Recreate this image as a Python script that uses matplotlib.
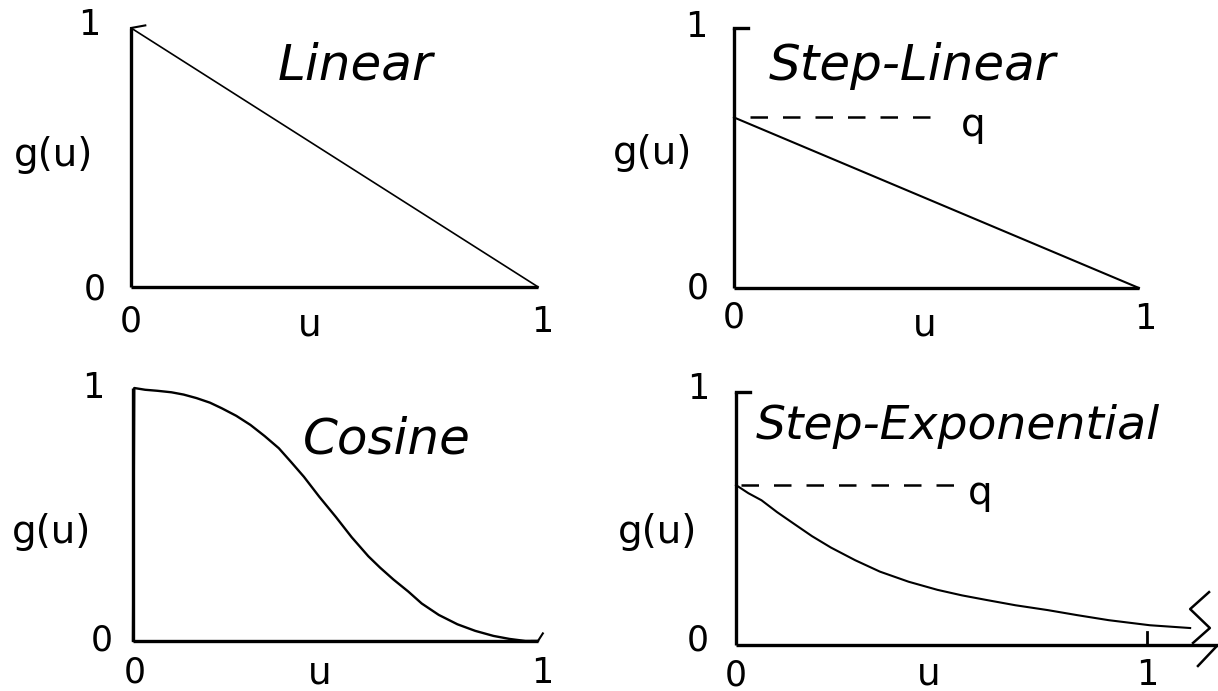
import matplotlib.pyplot as plt

plt.rcParams['font.family'] = ['DejaVu Sans']

# Linear: straight fall from 1 to 0
linear_u = [0.0, 1.0]
linear_g = [1.0, 0.0]

# Step-Linear: jump to q then straight fall
step_lin_u = [0.0, 1.0]
step_lin_g = [0.656, 0.0]
q_lin = 0.656

# Cosine: smooth fall
cos_u = [0.0, 0.003, 0.03, 0.06, 0.095, 0.125, 0.157, 0.19, 0.219, 0.255,
         0.29, 0.325, 0.36, 0.39, 0.422, 0.46, 0.501, 0.54, 0.581, 0.61,
         0.643, 0.68, 0.713, 0.755, 0.801, 0.845, 0.89, 0.93, 0.969, 1.0]
cos_g = [0.0, 1.0, 0.993, 0.989, 0.983, 0.974, 0.96, 0.942, 0.92, 0.89,
         0.854, 0.81, 0.762, 0.708, 0.649, 0.57, 0.49, 0.41, 0.335, 0.29,
         0.243, 0.195, 0.148, 0.103, 0.066, 0.04, 0.02, 0.008, 0.0, 0.0]

# Step-Exponential: jump to q then decaying tail
exp_u = [0.0, 0.03, 0.062, 0.10, 0.141, 0.185, 0.231, 0.29, 0.35, 0.42,
         0.49, 0.55, 0.609, 0.68, 0.758, 0.83, 0.907, 1.007, 1.105]
exp_g = [0.632, 0.600, 0.572, 0.525, 0.479, 0.43, 0.385, 0.335, 0.29, 0.25,
         0.218, 0.196, 0.178, 0.157, 0.138, 0.118, 0.098, 0.078, 0.067]
q_exp = 0.632

fig = plt.figure(figsize=(12.18, 6.91), dpi=100)

# axes boxes [left, bottom, width, height]
boxes = [
    [0.1076, 0.5847, 0.3342, 0.3748],
    [0.6026, 0.5832, 0.3325, 0.3763],
    [0.1092, 0.0724, 0.3325, 0.3661],
    [0.6043, 0.0666, 0.3374, 0.3661],
]

AX_LW = 2.4
num = dict(fontsize=25, ha='center', va='center')
ttl = dict(fontsize=36, style='italic', ha='left', va='baseline')

axes = []
for b in boxes:
    ax = fig.add_axes(b)
    ax.set_xlim(0, 1)
    ax.set_ylim(0, 1)
    ax.axis('off')
    axes.append(ax)

def frame(ax, xend=1.0, bracket=False):
    ax.plot([0, 0], [0, 1], color='black', lw=AX_LW, clip_on=False, solid_capstyle='butt')
    ax.plot([0, xend], [0, 0], color='black', lw=AX_LW, clip_on=False, solid_capstyle='butt')
    if bracket:
        ax.plot([0, 0.035], [1, 1], color='black', lw=AX_LW, clip_on=False)

def labels(ax, one_top, zero_left, zero_bot, u_pos, one_right, gu_pos):
    ax.text(*one_top, '1', **num)
    ax.text(*zero_left, '0', **num)
    ax.text(*zero_bot, '0', **num)
    ax.text(*u_pos, 'u', fontsize=27, ha='center', va='center')
    ax.text(*one_right, '1', **num)
    ax.text(*gu_pos, 'g(u)', fontsize=28, ha='center', va='center')

# Linear
ax = axes[0]
frame(ax)
ax.plot(linear_u, linear_g, color='black', lw=1.2, clip_on=False)
ax.plot([0.0, 0.035], [1.0, 1.01], color='black', lw=1.5, clip_on=False)
ax.text(0.36, 0.80, 'Linear', **ttl)
labels(ax, (-0.103, 1.01), (-0.09, -0.008), (0.0, -0.135), (0.44, -0.15),
       (1.01, -0.135), (-0.19, 0.51))

# Step-Linear
ax = axes[1]
frame(ax, bracket=True)
ax.plot(step_lin_u, step_lin_g, color='black', lw=1.5, clip_on=False)
ax.plot([0.04, 0.505], [q_lin, q_lin], color='black', lw=1.8, linestyle=(0, (7, 6)))
ax.text(0.59, q_lin - 0.03, 'q', fontsize=28, ha='center', va='center')
ax.text(0.085, 0.80, 'Step-Linear', **ttl)
labels(ax, (-0.094, 1.004), (-0.089, 0.0), (0.0, -0.115), (0.47, -0.145),
       (1.015, -0.12), (-0.2, 0.52))

# Cosine
ax = axes[2]
frame(ax)
ax.plot(cos_u, cos_g, color='black', lw=1.7, clip_on=False)
ax.plot([0.985, 1.0, 1.012], [0.0, 0.0, 0.03], color='black', lw=1.5, clip_on=False)
ax.text(0.42, 0.742, 'Cosine', **ttl)
labels(ax, (-0.099, 1.0), (-0.077, 0.0), (0.005, -0.125), (0.46, -0.13),
       (1.01, -0.125), (-0.2, 0.43))

# Step-Exponential, axis broken past u = 1
ax = axes[3]
frame(ax, xend=1.173, bracket=True)
ax.plot(exp_u, exp_g, color='black', lw=1.5, clip_on=False)
ax.plot([1.0, 1.0], [0.0, 0.05], color='black', lw=2, clip_on=False)
ax.plot([0.012, 0.53], [q_exp, q_exp], color='black', lw=1.8, linestyle=(0, (7, 6)))
ax.text(0.594, q_exp - 0.03, 'q', fontsize=28, ha='center', va='center')
ax.plot([1.151, 1.105, 1.153, 1.112], [0.209, 0.142, 0.067, 0.008],
        color='black', lw=1.8, clip_on=False)
ax.plot([1.124, 1.170], [-0.083, -0.004], color='black', lw=1.8, clip_on=False)
ax.text(0.047, 0.813, 'Step-Exponential', fontsize=34, style='italic',
        ha='left', va='baseline')
labels(ax, (-0.092, 1.01), (-0.093, 0.017), (0.0, -0.12), (0.468, -0.115),
       (1.0, -0.12), (-0.19, 0.445))

fig.savefig('out.png', dpi=100)
